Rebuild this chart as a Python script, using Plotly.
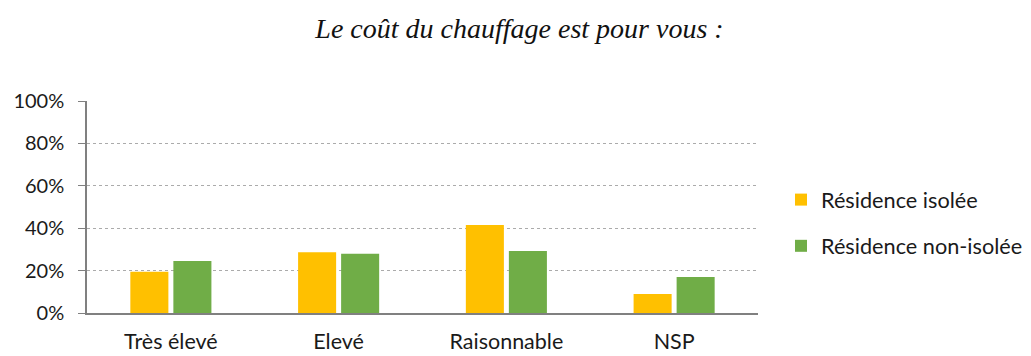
import plotly.graph_objects as go

categories = ["Très élevé", "Elevé", "Raisonnable", "NSP"]
isolee = [19.5, 28.6, 41.5, 9.0]
non_isolee = [24.5, 28.0, 29.3, 17.0]
series_names = ["Résidence isolée", "Résidence non-isolée"]
y_ticks = [0, 20, 40, 60, 80, 100]
y_tick_labels = [f"{v}%" for v in y_ticks]
title_text = "Le coût du chauffage est pour vous :"

fig = go.Figure()
fig.add_trace(go.Bar(x=categories, y=isolee, name=series_names[0],
                     marker=dict(color="#FFC000", line=dict(width=0)),
                     legendgroup="a"))
fig.add_trace(go.Bar(x=categories, y=non_isolee, name=series_names[1],
                     marker=dict(color="#70AD47", line=dict(width=0)),
                     legendgroup="b"))

fig.update_layout(
    width=1031, height=356,
    margin=dict(l=87, r=273, t=101, b=43, autoexpand=False),
    paper_bgcolor="white", plot_bgcolor="white",
    barmode="group", bargap=0.487, bargroupgap=0.116,
    font=dict(family="Lato, Open Sans, sans-serif", size=21, color="#1a1a1a"),
    title=dict(text=title_text, x=519.5 / 1031, xref="container", xanchor="center",
               y=1 - 28 / 356, yref="container", yanchor="middle",
               font=dict(family="Liberation Serif, serif", size=28, color="#111111",
                         style="italic")),
    legend=dict(x=781 / 1031, xref="container", xanchor="left",
                y=1 - 223 / 356, yref="container", yanchor="middle",
                traceorder="grouped", tracegroupgap=15,
                font=dict(size=21.7, color="#1a1a1a"), bgcolor="rgba(0,0,0,0)"),
    xaxis=dict(showline=True, linecolor="#808080", linewidth=2, ticks="",
               showgrid=False, ticklabelstandoff=8, tickfont=dict(size=21.5)),
    yaxis=dict(range=[0, 100], tickvals=y_ticks, ticktext=y_tick_labels,
               showline=True, linecolor="#808080", linewidth=1.5,
               ticks="outside", ticklen=7, tickcolor="#808080",
               ticklabelstandoff=10,
               showgrid=True, gridcolor="#ABABAB", griddash="dot", gridwidth=1.2,
               zeroline=False, tickfont=dict(size=20)),
)

fig.write_html("out.html")
